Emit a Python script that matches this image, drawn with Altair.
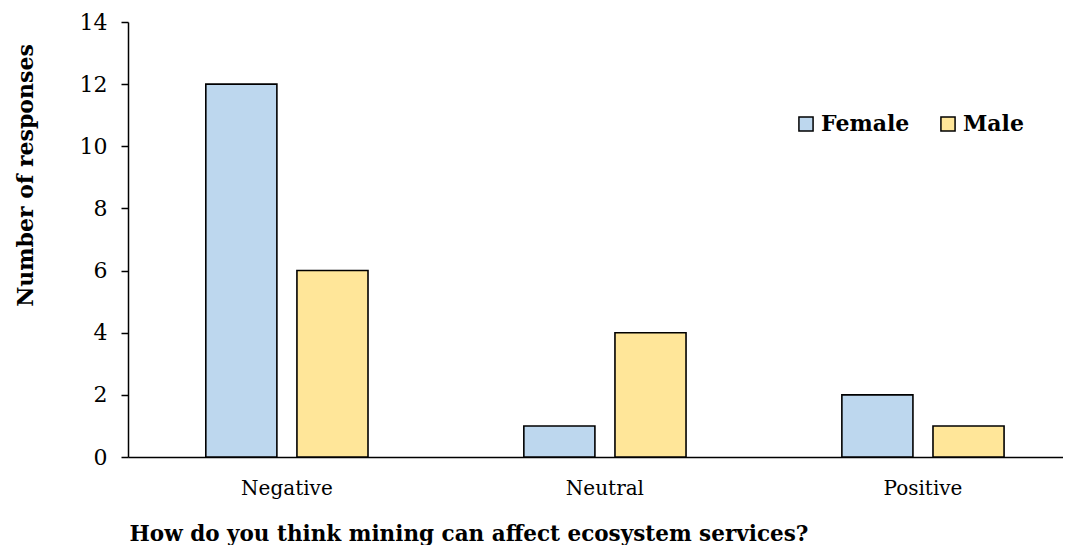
import altair as alt
import pandas as pd

categories = ["Negative", "Neutral", "Positive"]
female = [12, 1, 2]
male = [6, 4, 1]
genders = ["Female", "Male"]
colors = ["#BDD7EE", "#FFE699"]
y_ticks = [0, 2, 4, 6, 8, 10, 12, 14]

rows = []
for c, f, m in zip(categories, female, male):
    rows.append({"cat": c, "gender": "Female", "value": f})
    rows.append({"cat": c, "gender": "Male", "value": m})
df = pd.DataFrame(rows)

FONT = "DejaVu Serif"

chart = alt.Chart(df).mark_bar(stroke="black", strokeWidth=1.6).encode(
    x=alt.X("cat:N", sort=categories,
            scale=alt.Scale(paddingInner=0.49, paddingOuter=0.215, align=0.569),
            axis=alt.Axis(title="How do you think mining can affect ecosystem services?",
                          labelAngle=0, ticks=False, domainColor="black", domainWidth=1.5,
                          labelFont=FONT, labelFontSize=20, labelColor="black", labelPadding=21,
                          titleFont=FONT, titleFontSize=21.5, titleFontWeight="bold", titleColor="black",
                          titleAnchor="start", titleAlign="left", titleX=1, titleY=83,
                          titleBaseline="alphabetic")),
    xOffset=alt.XOffset("gender:N", sort=genders,
                        scale=alt.Scale(paddingInner=0.22, paddingOuter=0)),
    y=alt.Y("value:Q", scale=alt.Scale(domain=[0, 14], nice=False),
            axis=alt.Axis(title="Number of responses", values=y_ticks, grid=False,
                          domainColor="black", domainWidth=1.5, tickColor="black", tickWidth=1.5,
                          tickSize=7, labelFont=FONT, labelFontSize=22, labelColor="black",
                          labelPadding=14,
                          titleFont=FONT, titleFontSize=22, titleFontWeight="bold", titleColor="black",
                          titleAngle=-90, titleX=-103, titleY=153, titleAlign="center",
                          titleBaseline="middle")),
    color=alt.Color("gender:N", sort=genders,
                    scale=alt.Scale(domain=genders, range=colors),
                    legend=alt.Legend(title=None, orient="none", legendX=667, legendY=91,
                                      direction="horizontal", symbolType="square", symbolSize=200,
                                      symbolStrokeColor="black", symbolStrokeWidth=1.5,
                                      symbolOpacity=1,
                                      labelFont=FONT, labelFontSize=22, labelFontWeight="bold",
                                      labelColor="black", labelOffset=4, columnPadding=27)),
).properties(
    width=935, height=435,
    autosize=alt.AutoSizeParams(type="none"),
    padding={"left": 120, "top": 14, "right": 0, "bottom": 88},
).configure_view(stroke=None)

chart.save("out.html", embed_options={"renderer": "svg", "actions": False})
